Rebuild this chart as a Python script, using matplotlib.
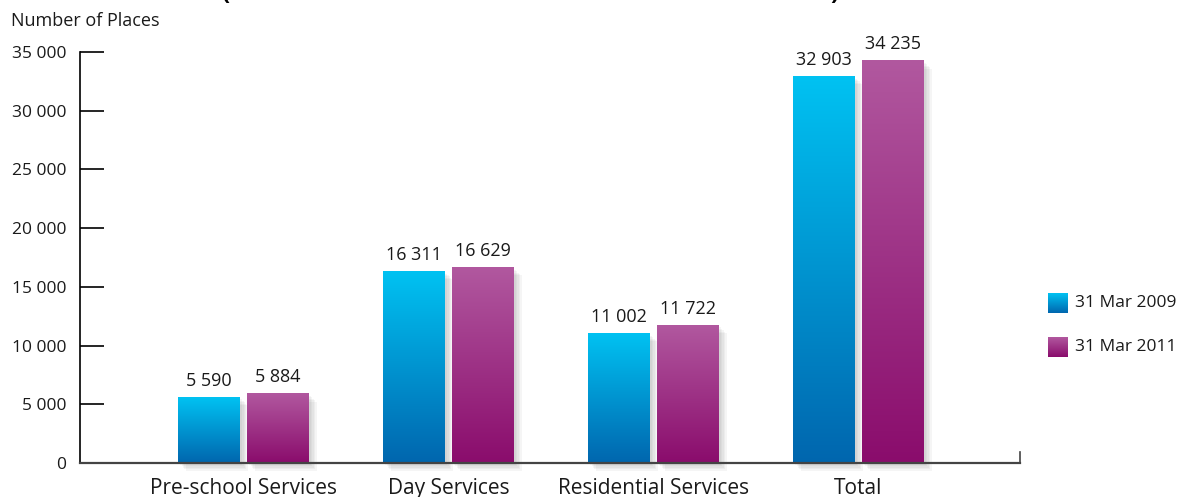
import numpy as np
import matplotlib
matplotlib.use("Agg")
import matplotlib.pyplot as plt
import matplotlib.patheffects as pe
from matplotlib.colors import LinearSegmentedColormap

categories = ["Pre-school Services", "Day Services", "Residential Services", "Total"]
series = ["31 Mar 2009", "31 Mar 2011"]
places_2009 = [5590, 16311, 11002, 32903]
places_2011 = [5884, 16629, 11722, 34235]
yticks = [0, 5000, 10000, 15000, 20000, 25000, 30000, 35000]

# bottom colour -> top colour for each series
grads = [("#0066ae", "#00c2f2"), ("#8a0c6c", "#b1589f")]

plt.rcParams['font.family'] = ['Open Sans', 'DejaVu Sans']

fig = plt.figure(figsize=(11.77, 4.97), dpi=100)
ax = fig.add_axes([80/1177, 1-463/497, 940/1177, 411/497])

x = np.arange(len(categories))
w = 0.302
off = 0.168
shadow = [pe.SimplePatchShadow(offset=(d, -d), shadow_rgbFace="#777777", alpha=0.07)
          for d in (1.5, 2.5, 3.5, 4.5, 5.5)]

grad = np.linspace(0, 1, 256).reshape(-1, 1)
for i, (vals, (c0, c1)) in enumerate(zip([places_2009, places_2011], grads)):
    pos = x + (-off if i == 0 else off)
    bars = ax.bar(pos, vals, width=w, color="white", edgecolor="none",
                  clip_on=False, zorder=1, path_effects=shadow + [pe.Normal()])
    cmap = LinearSegmentedColormap.from_list("g%d" % i, [c0, c1])
    for b, v in zip(bars, vals):
        bx = b.get_x()
        ax.imshow(grad, extent=[bx, bx + w, 0, v], origin="lower", aspect="auto",
                  cmap=cmap, zorder=2, interpolation="bilinear", clip_on=False)
        ax.annotate(f"{v:,}".replace(",", " "), (bx + w/2, v), xytext=(0, 8.5),
                    textcoords="offset points", ha="center", va="baseline",
                    fontsize=13, color="#1a1a1a")

ax.set_xlim(-0.798, 3.788)
ax.set_ylim(0, 35000)
ax.set_yticks(yticks)
ax.set_yticklabels([f"{t:,}".replace(",", " ") for t in yticks], fontsize=12.5, color="#1a1a1a")
ax.set_xticks(x)
ax.set_xticklabels(categories, fontsize=15, color="#1a1a1a")
ax.tick_params(axis="y", direction="in", length=17, width=1.2, pad=10)
ax.tick_params(axis="x", length=0, pad=10.5)
for s in ("top", "right"):
    ax.spines[s].set_visible(False)
ax.spines["left"].set_linewidth(1.2)
ax.spines["bottom"].set_linewidth(1.6)
ax.spines["bottom"].set_color("#444444")
ax.plot([1, 1], [0, 0.026], transform=ax.transAxes, color="#444444", lw=1.2, clip_on=False)

fig.text(11/1177, 1-21/497, "Number of Places", fontsize=13, va="center", ha="left",
         color="#1a1a1a")

# cut-off title parentheses at the very top (clipped in the reference too)
fig.text(222/1177, 1.0, "(", fontsize=17, fontweight="bold", va="baseline", ha="left")
fig.text(830/1177, 1.0, ")", fontsize=17, fontweight="bold", va="baseline", ha="left")

# legend with gradient swatches
for i, (lab, (c0, c1)) in enumerate(zip(series, grads)):
    top = 293 + 44*i
    lax = fig.add_axes([1048/1177, 1-(top+20)/497, 20/1177, 20/497])
    lax.imshow(grad, origin="lower", aspect="auto",
               cmap=LinearSegmentedColormap.from_list("l%d" % i, [c0, c1]))
    lax.axis("off")
    fig.text(1075/1177, 1-(top+10)/497, lab, fontsize=12.5, va="center", ha="left",
             color="#1a1a1a")

fig.savefig("out.png", dpi=100)
